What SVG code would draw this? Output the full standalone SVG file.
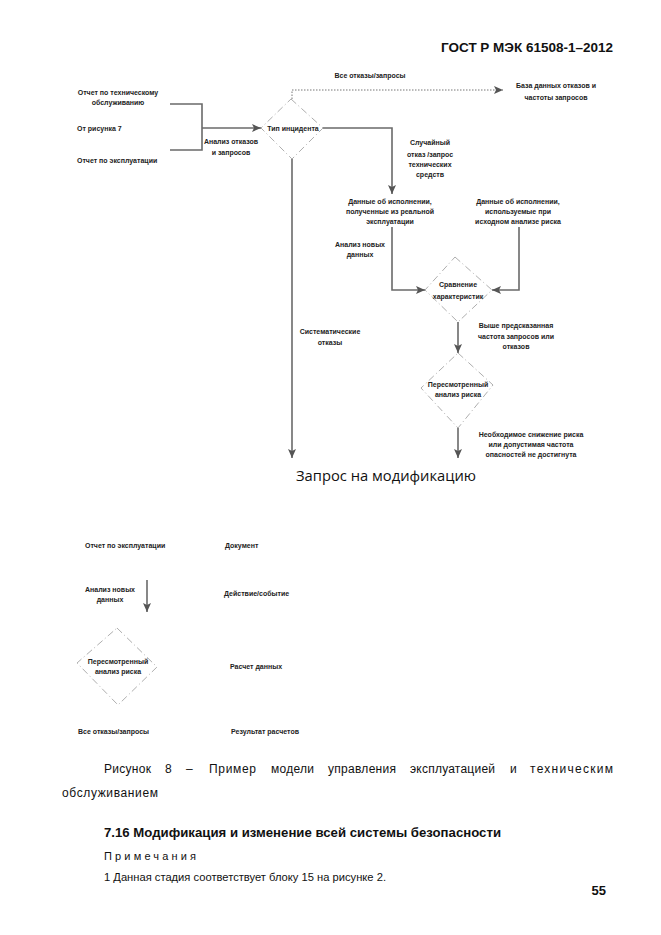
<svg xmlns="http://www.w3.org/2000/svg" width="661" height="935" viewBox="0 0 661 935">
<defs>
<style>
.l{font-family:"Liberation Sans",Arial,sans-serif;font-size:7px;font-weight:bold;fill:#222}
.c{text-anchor:middle}
.d{fill:#fff;stroke:#999;stroke-width:0.8;stroke-dasharray:7 3 1 3}
.w{fill:none;stroke:#6a6a6a;stroke-width:1.6}
.t{font-family:"Liberation Sans",Arial,sans-serif;fill:#111}
</style>
<marker id="ah" markerUnits="userSpaceOnUse" markerWidth="10" markerHeight="9" refX="9" refY="4" orient="auto">
<path d="M0,0 L9,4 L0,8 L2,4 z" fill="#555"/>
</marker>
</defs>
<rect width="661" height="935" fill="#fff"/>

<text class="t" x="613" y="52" text-anchor="end" font-size="13" font-weight="bold" textLength="172" lengthAdjust="spacingAndGlyphs">ГОСТ Р МЭК 61508-1–2012</text>

<g id="connectors">
<polyline class="w" points="170,104 202,104 202,150 170,150" stroke-width="1.2"/>
<line class="w" x1="202" y1="128" x2="261" y2="128" marker-end="url(#ah)"/>
<polyline points="292,99 292,90 503,90" fill="none" stroke="#777" stroke-width="1" stroke-dasharray="1.5 1.5" marker-end="url(#ah)"/>
<polyline class="w" points="323,128 392,128 392,194" marker-end="url(#ah)"/>
<line class="w" x1="292" y1="159" x2="292" y2="458" marker-end="url(#ah)"/>
<polyline class="w" points="392,227 392,290 425,290" marker-end="url(#ah)"/>
<polyline class="w" points="519,227 519,290 492,290" marker-end="url(#ah)"/>
<line class="w" x1="458" y1="322" x2="458" y2="353" marker-end="url(#ah)"/>
<line class="w" x1="458" y1="428" x2="458" y2="458" marker-end="url(#ah)"/>
<line class="w" x1="147" y1="580" x2="147" y2="612" marker-end="url(#ah)"/>
</g>

<g id="doc-tech">
<text class="l c" x="118" y="95">Отчет по техническому</text>
<text class="l c" x="118" y="105">обслуживанию</text>
</g>
<g id="from-fig7"><text class="l" x="77" y="131">От рисунка 7</text></g>
<g id="doc-expl"><text class="l" x="77" y="163">Отчет по эксплуатации</text></g>
<g id="lbl-analysis">
<text class="l c" x="231" y="144">Анализ отказов</text>
<text class="l c" x="231" y="155">и запросов</text>
</g>

<g id="incident-type">
<polygon class="d" points="291,99 323,128 292,159 261,128"/>
<text class="l c" x="293" y="131">Тип инцидента</text>
</g>

<g id="lbl-all"><text class="l c" x="370" y="78">Все отказы/запросы</text></g>
<g id="database">
<text class="l c" x="556" y="88">База данных отказов и</text>
<text class="l c" x="556" y="100">частоты запросов</text>
</g>
<g id="lbl-random">
<text class="l c" x="430" y="145">Случайный</text>
<text class="l c" x="430" y="157">отказ /запрос</text>
<text class="l c" x="430" y="167">технических</text>
<text class="l c" x="430" y="177">средств</text>
</g>

<g id="data-real">
<text class="l c" x="390" y="204">Данные об исполнении,</text>
<text class="l c" x="390" y="214">полученные из реальной</text>
<text class="l c" x="390" y="224">эксплуатации</text>
</g>
<g id="data-initial">
<text class="l c" x="518" y="204">Данные об исполнении,</text>
<text class="l c" x="518" y="214">используемые при</text>
<text class="l c" x="518" y="224">исходном анализе риска</text>
</g>
<g id="lbl-newdata">
<text class="l c" x="360" y="247">Анализ новых</text>
<text class="l c" x="360" y="257">данных</text>
</g>

<g id="compare">
<polygon class="d" points="455,257 492,290 458,322 425,290"/>
<text class="l c" x="458" y="287">Сравнение</text>
<text class="l c" x="458" y="299">характеристик</text>
</g>

<g id="lbl-higher">
<text class="l c" x="516" y="328">Выше предсказанная</text>
<text class="l c" x="516" y="339">частота запросов или</text>
<text class="l c" x="516" y="349">отказов</text>
</g>
<g id="lbl-systematic">
<text class="l c" x="330" y="334">Систематические</text>
<text class="l c" x="330" y="345">отказы</text>
</g>

<g id="revised">
<polygon class="d" points="458,353 493,385 458,428 421,388"/>
<text class="l c" x="458" y="387">Пересмотренный</text>
<text class="l c" x="458" y="397">анализ риска</text>
</g>

<g id="lbl-needed">
<text class="l c" x="531" y="437">Необходимое снижение риска</text>
<text class="l c" x="531" y="447">или допустимая частота</text>
<text class="l c" x="531" y="457">опасностей не достигнута</text>
</g>

<g id="mod-request">
<text x="296" y="481" font-family="'Open Sans','Noto Sans',sans-serif" font-size="15" fill="#111" textLength="180" lengthAdjust="spacingAndGlyphs">Запрос на модификацию</text>
</g>

<g id="legend">
<text class="l" x="85" y="548">Отчет по эксплуатации</text>
<text class="l" x="225" y="548">Документ</text>
<text class="l c" x="110" y="592">Анализ новых</text>
<text class="l c" x="110" y="602">данных</text>
<text class="l" x="224" y="596">Действие/событие</text>
<polygon class="d" points="117,628 157,667 118,705 77,663"/>
<text class="l c" x="118" y="664">Пересмотренный</text>
<text class="l c" x="118" y="674">анализ риска</text>
<text class="l" x="230" y="669">Расчет данных</text>
<text class="l" x="78" y="734">Все отказы/запросы</text>
<text class="l" x="231" y="734">Результат расчетов</text>
</g>

<g id="caption" class="t" font-size="12">
<text x="104" y="773" textLength="47" lengthAdjust="spacing">Рисунок</text>
<text x="165" y="773">8</text>
<text x="186" y="773">–</text>
<text x="209" y="773" textLength="47" lengthAdjust="spacing">Пример</text>
<text x="271" y="773" textLength="43" lengthAdjust="spacing">модели</text>
<text x="328" y="773" textLength="68" lengthAdjust="spacing">управления</text>
<text x="410" y="773" textLength="85" lengthAdjust="spacing">эксплуатацией</text>
<text x="510" y="773">и</text>
<text x="530" y="773" textLength="83" lengthAdjust="spacing">техническим</text>
<text x="62" y="797" textLength="96" lengthAdjust="spacing">обслуживанием</text>
</g>

<text class="t" x="104" y="837" font-size="13" font-weight="bold" textLength="397" lengthAdjust="spacingAndGlyphs">7.16 Модификация и изменение всей системы безопасности</text>
<text class="t" x="104" y="860" font-size="11" textLength="92" lengthAdjust="spacing">Примечания</text>
<text class="t" x="104" y="881" font-size="11" textLength="282" lengthAdjust="spacingAndGlyphs">1 Данная стадия соответствует блоку 15 на рисунке 2.</text>
<text class="t" x="606" y="895" text-anchor="end" font-size="13" font-weight="bold">55</text>
</svg>
